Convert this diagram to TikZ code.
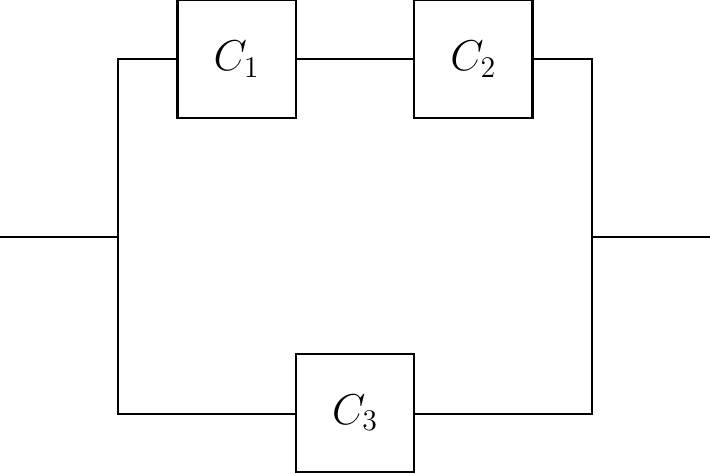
\documentclass[tikz,border=0pt]{standalone}
\begin{document}
\begin{tikzpicture}[x=1cm,y=1cm,line width=1pt,
  comp/.style={draw,minimum width=2cm,minimum height=2cm,inner sep=0pt,outer sep=0pt,font=\huge}]
\useasboundingbox (0,0) rectangle (12,-8);
\node[comp] (c1) at (4,-1) {$C_1$};
\node[comp] (c2) at (8,-1) {$C_2$};
\node[comp] (c3) at (6,-6.98) {$C_3$};
\coordinate (in) at (0,-4);
\coordinate (jl) at (2,-4);
\coordinate (jr) at (10,-4);
\coordinate (out) at (12,-4);
\coordinate (tl) at (2,-1);
\coordinate (tr) at (10,-1);
\coordinate (bl) at (2,-7);
\coordinate (br) at (10,-7);
\draw (in) -- (jl);
\draw (jr) -- (out);
\draw (c1.west) -- (tl) -- (bl) -- (bl -| c3.west);
\draw (c1.east) -- (c2.west);
\draw (c2.east) -- (tr) -- (br) -- (br -| c3.east);
\end{tikzpicture}
\end{document}
